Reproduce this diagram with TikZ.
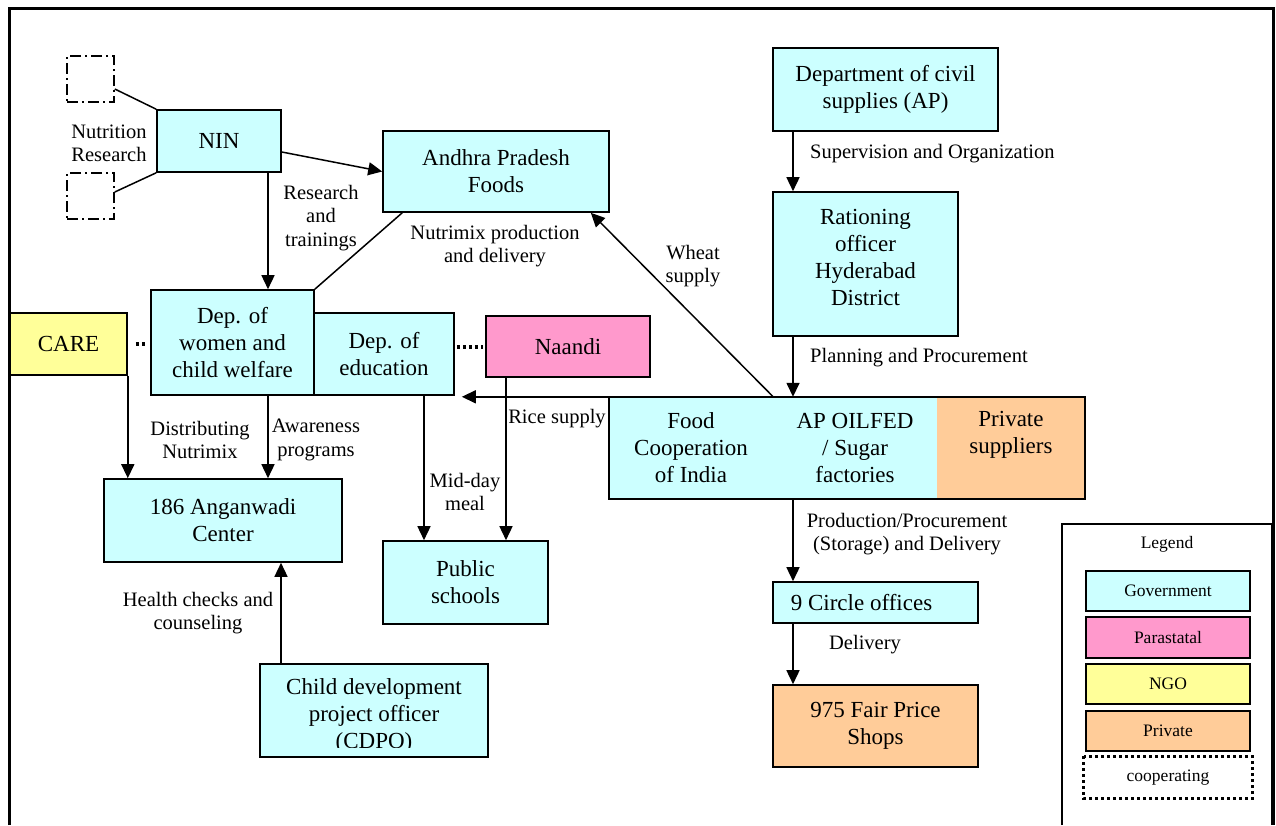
\documentclass[tikz,border=0pt]{standalone}
\usepackage{fontspec}
\setmainfont{Liberation Serif}
\usetikzlibrary{arrows.meta}

\definecolor{govcol}{HTML}{CCFFFF}
\definecolor{paracol}{HTML}{FF99CC}
\definecolor{ngocol}{HTML}{FFFF99}
\definecolor{privcol}{HTML}{FFCC99}

\newcommand{\boxfont}{\fontsize{23}{27}\selectfont}
\newcommand{\lblfont}{\fontsize{20.5}{23.5}\selectfont}
\newcommand{\legfont}{\fontsize{17.5}{20}\selectfont}

\begin{document}
\begin{tikzpicture}[x=1pt, y=-1pt,
        box/.style={draw, line width=1.6pt, align=center, inner sep=0pt, font=\boxfont},
        gov/.style={box, fill=govcol},
        lbl/.style={align=center, inner sep=0pt, font=\lblfont},
        legbox/.style={draw, line width=1.6pt, inner sep=0pt, font=\legfont, minimum width=164pt},
        arr/.style={-{Triangle[length=14pt, width=13pt]}, line width=1.5pt},
        coop/.style={line width=4pt, dash pattern=on 3.5pt off 2.5pt},
        resbox/.style={draw, line width=1.6pt, dash pattern=on 11pt off 4pt on 2pt off 4pt, minimum width=47pt, minimum height=46pt, inner sep=0pt}]

                \useasboundingbox (0, 0) rectangle (1276, 825);

                \draw[line width=3pt] (9, 825) -- (9, 8) -- (1273, 8) -- (1273, 825);

                \node[resbox] (res1) at (90.5, 79) {};

                \node[resbox] (res2) at (90.5, 196) {};

                \node[gov, minimum width=124pt, minimum height=62pt] (nin) at (219, 141) {NIN};

                \node[gov, minimum width=226pt, minimum height=81pt] (apf) at (496, 171.5) {Andhra Pradesh\\Foods};

                \node[gov, minimum width=225pt, minimum height=83pt] (civil) at (885.5, 89.5) {Department of civil\\supplies (AP)};

                \node[gov, minimum width=185pt, minimum height=144pt] (ration) at (865.5, 264) {Rationing\\officer\\Hyderabad\\District\rule[-14pt]{0pt}{0pt}};

                \node[box, fill=ngocol, minimum width=117pt, minimum height=62pt] (care) at (68.5, 344) {CARE};

                \node[gov, minimum width=163pt, minimum height=105pt] (women) at (232.5, 342.5) {Dep. of\\women and\\child welfare};

                \node[gov, minimum width=140pt, minimum height=82pt] (educ) at (384, 354) {Dep. of\\education};

                \node[box, fill=paracol, minimum width=164pt, minimum height=61pt] (naandi) at (568, 346.5) {Naandi};

                \node[fill=govcol, align=center, inner sep=0pt, font=\boxfont, minimum width=164pt, minimum height=102pt] (fci) at (691, 448) {Food\\Cooperation\\of India};

                \node[fill=govcol, align=center, inner sep=0pt, font=\boxfont, minimum width=164pt, minimum height=102pt] (oilfed) at (855, 448) {AP OILFED\\/ Sugar\\factories};

                \node[fill=privcol, align=center, inner sep=0pt, font=\boxfont, minimum width=148pt, minimum height=102pt] (private) at (1011, 448) {Private\\suppliers\rule[-32pt]{0pt}{0pt}};

                \draw[line width=1.6pt] (fci.north west) rectangle (private.south east);

                \node[gov, minimum width=205pt, minimum height=41pt] (circle) at (875.5, 602.5) {9 Circle offices\hspace*{28pt}};

                \node[box, fill=privcol, minimum width=205pt, minimum height=82pt] (shops) at (875.5, 726) {975 Fair Price\\Shops};

                \node[gov, minimum width=238pt, minimum height=83pt] (anganwadi) at (223, 520.5) {186 Anganwadi\\Center};

                \node[gov, minimum width=165pt, minimum height=83pt] (schools) at (465.5, 582.5) {Public\\schools};

                \node[gov, minimum width=228pt, minimum height=93pt] (cdpo) at (374, 710.5) {\rule{0pt}{27pt}Child development\\project officer\\(CDPO)};

                \fill[govcol] (262, 748) rectangle (486, 755.5);

                \draw[line width=1.5pt] ([yshift=-10pt]res1.east) -- (nin.north west);

                \draw[line width=1.5pt] ([yshift=4pt]res2.east) -- (nin.south west);

                \node[lbl] (nutres) at (109, 143.5) {Nutrition\\Research};

                \draw[arr] ([yshift=-11pt]nin.east) -- (apf.west);

                \draw[arr] (nin.south -| 268, 0) -- (women.north -| 268, 0);

                \node[lbl] (restrain) at (321, 218) {Research\\and\\trainings};

                \draw[line width=1.5pt] ([xshift=20pt]apf.south west) -- (women.north east);

                \node[lbl] (nutrimix) at (495, 246) {Nutrimix production\\and delivery};

                \draw[arr] (fci.north east) -- ([xshift=-19pt]apf.south east);

                \node[lbl] (wheat) at (693, 266) {Wheat\\supply};

                \coordinate (spine) at (793, 0);

                \draw[arr] (civil.south -| spine) -- (ration.north -| spine);

                \node[lbl, anchor=base west] (superv) at (810, 158) {Supervision and Organization};

                \draw[arr] (ration.south -| spine) -- (fci.north -| spine);

                \node[lbl, anchor=base west] (planning) at (810, 362) {Planning and Procurement};

                \draw[arr, shorten >=7pt] (fci.north east) -- (fci.north east -| educ.east);

                \draw[coop, shorten <=8pt, shorten >=3pt] (care.east) -- (care.east -| women.west);

                \draw[coop, shorten <=2pt, shorten >=2pt] (educ.east |- naandi.west) -- (naandi.west);

                \draw[arr] (care.south east) -- (care.south east |- anganwadi.north);

                \draw[arr] (women.south -| 268, 0) -- (anganwadi.north -| 268, 0);

                \node[lbl] (distrib) at (200, 440) {Distributing\\Nutrimix};

                \node[lbl] (aware) at (316, 440) {Awareness\\programs};

                \draw[arr] (educ.south -| 424, 0) -- (schools.north -| 424, 0);

                \draw[arr] (naandi.south -| 506, 0) -- (schools.north -| 506, 0);

                \node[lbl] (midday) at (465, 492) {Mid-day\\meal};

                \node[lbl, anchor=base] (rice) at (557, 423) {Rice supply};

                \draw[arr] (cdpo.north -| 281, 0) -- (anganwadi.south -| 281, 0);

                \node[lbl] (health) at (198, 613) {Health checks and\\counseling};

                \draw[arr] (fci.south -| spine) -- (circle.north -| spine);

                \node[lbl] (prodproc) at (907, 534) {Production/Procurement\\(Storage) and Delivery};

                \draw[arr] (circle.south -| spine) -- (shops.north -| spine);

                \node[lbl, anchor=base] (deliv) at (865, 649) {Delivery};

                \draw[line width=2pt] (1062, 825) -- (1062, 524) -- (1272, 524) -- (1272, 825);

                \node[font=\legfont, anchor=base] (legtitle) at (1167, 548) {Legend};

                \node[legbox, fill=govcol, minimum height=40pt] (leggov) at (1168, 591) {Government};

                \node[legbox, fill=paracol, minimum height=41pt] (legpara) at (1168, 637.5) {Parastatal};

                \node[legbox, fill=ngocol, minimum height=40pt] (legngo) at (1168, 684) {NGO};

                \node[legbox, fill=privcol, minimum height=40pt] (legpriv) at (1168, 731) {Private};

                \node[legbox, draw=none, minimum width=167pt, minimum height=41pt] (legcoop) at (1168, 777.5) {cooperating};

                \draw[line width=3pt, dash pattern=on 3pt off 3pt] (legcoop.north west) rectangle (legcoop.south east);
            \end{tikzpicture}
\end{document}
